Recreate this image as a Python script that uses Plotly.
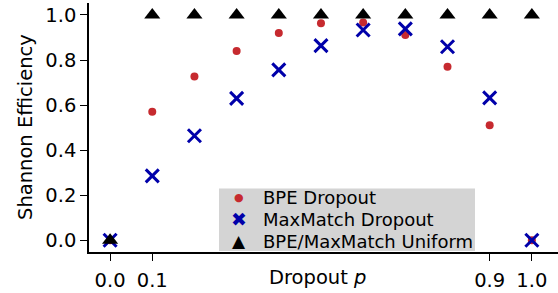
import plotly.graph_objects as go

p = [0.0, 0.1, 0.2, 0.3, 0.4, 0.5, 0.6, 0.7, 0.8, 0.9, 1.0]
bpe_dropout = [0.0, 0.570, 0.727, 0.840, 0.920, 0.963, 0.966, 0.911, 0.770, 0.511, 0.0]
maxmatch_dropout = [0.0, 0.286, 0.464, 0.630, 0.756, 0.864, 0.933, 0.938, 0.859, 0.632, 0.0]
uniform = [0.0, 1.0, 1.0, 1.0, 1.0, 1.0, 1.0, 1.0, 1.0, 1.0, 1.0]

x_ticks = [0.0, 0.1, 0.9, 1.0]
x_tick_labels = ["0.0", "0.1", "0.9", "1.0"]
y_ticks = [0.0, 0.2, 0.4, 0.6, 0.8, 1.0]
y_tick_labels = ["0.0", "0.2", "0.4", "0.6", "0.8", "1.0"]

series_names = ["BPE Dropout", "MaxMatch Dropout", "BPE/MaxMatch Uniform"]
series_colors = ["#c62a2f", "#0000aa", "black"]

FS = 19.5
LFS = 18

W, H = 558, 293
L, R, T, B = 89, 0, 3, 41
PW, PH = W - L - R, H - T - B


def px(xpix):
    return (xpix - L) / PW


def py(ypix):
    return (H - B - ypix) / PH


fig = go.Figure()
fig.add_trace(go.Scatter(x=p, y=bpe_dropout, mode="markers", name=series_names[0],
                         marker=dict(symbol="circle", size=8, color=series_colors[0])))
fig.add_trace(go.Scatter(x=p, y=maxmatch_dropout, mode="markers", name=series_names[1],
                         marker=dict(symbol="x-thin", size=13, color=series_colors[1],
                                     line=dict(width=3, color=series_colors[1]))))
fig.add_trace(go.Scatter(x=p, y=uniform, mode="markers", name=series_names[2],
                         marker=dict(symbol="triangle-up", size=14, color=series_colors[2])))

# manual legend (matplotlib-like compact spacing)
legend_rows_y = [197.5, 219.5, 241]
legend_glyphs = ["●", "✖", "▲"]
legend_glyph_sizes = [11, 19, 17]
annotations = []
for name, color, glyph, gs, ry in zip(series_names, series_colors, legend_glyphs,
                                      legend_glyph_sizes, legend_rows_y):
    annotations.append(dict(text=glyph, xref="paper", yref="paper", x=px(239), y=py(ry),
                            xanchor="center", yanchor="middle", showarrow=False,
                            font=dict(size=gs, color=color)))
    annotations.append(dict(text=name, xref="paper", yref="paper", x=px(261), y=py(ry),
                            xanchor="left", yanchor="middle", showarrow=False,
                            font=dict(size=LFS, color="black")))

annotations += [
    dict(text="Dropout <i>p</i>", xref="paper", yref="paper",
         x=px(317), y=py(277), xanchor="center", yanchor="middle",
         showarrow=False, font=dict(size=FS)),
    dict(text="Shannon Efficiency", xref="paper", yref="paper",
         x=px(25), y=py(127), xanchor="center", yanchor="middle",
         textangle=-90, showarrow=False, font=dict(size=FS)),
]

fig.update_layout(
    width=W, height=H,
    margin=dict(l=L, r=R, t=T, b=B),
    plot_bgcolor="white", paper_bgcolor="white",
    font=dict(family="DejaVu Sans", size=FS, color="black"),
    showlegend=False,
    xaxis=dict(range=[-0.05, 1.062], tickvals=x_ticks, ticktext=x_tick_labels,
               showgrid=False, zeroline=False, showline=True, linecolor="black",
               linewidth=1.5, ticks="outside", ticklen=7, tickwidth=1.2,
               tickcolor="black", automargin=False, ticklabelstandoff=3),
    yaxis=dict(range=[-0.052, 1.053], tickvals=y_ticks, ticktext=y_tick_labels,
               showgrid=False, zeroline=False, showline=True, linecolor="black",
               linewidth=1.5, ticks="outside", ticklen=7, tickwidth=1.2,
               tickcolor="black", automargin=False),
    shapes=[dict(type="rect", xref="paper", yref="paper",
                 x0=px(219), x1=px(475), y0=py(251), y1=py(188.5),
                 fillcolor="#d4d4d4", line=dict(width=0), layer="above")],
    annotations=annotations,
)

fig.write_html("out.html", config={"displayModeBar": False},
               post_script="document.body.style.margin='0';document.body.style.padding='0';")
